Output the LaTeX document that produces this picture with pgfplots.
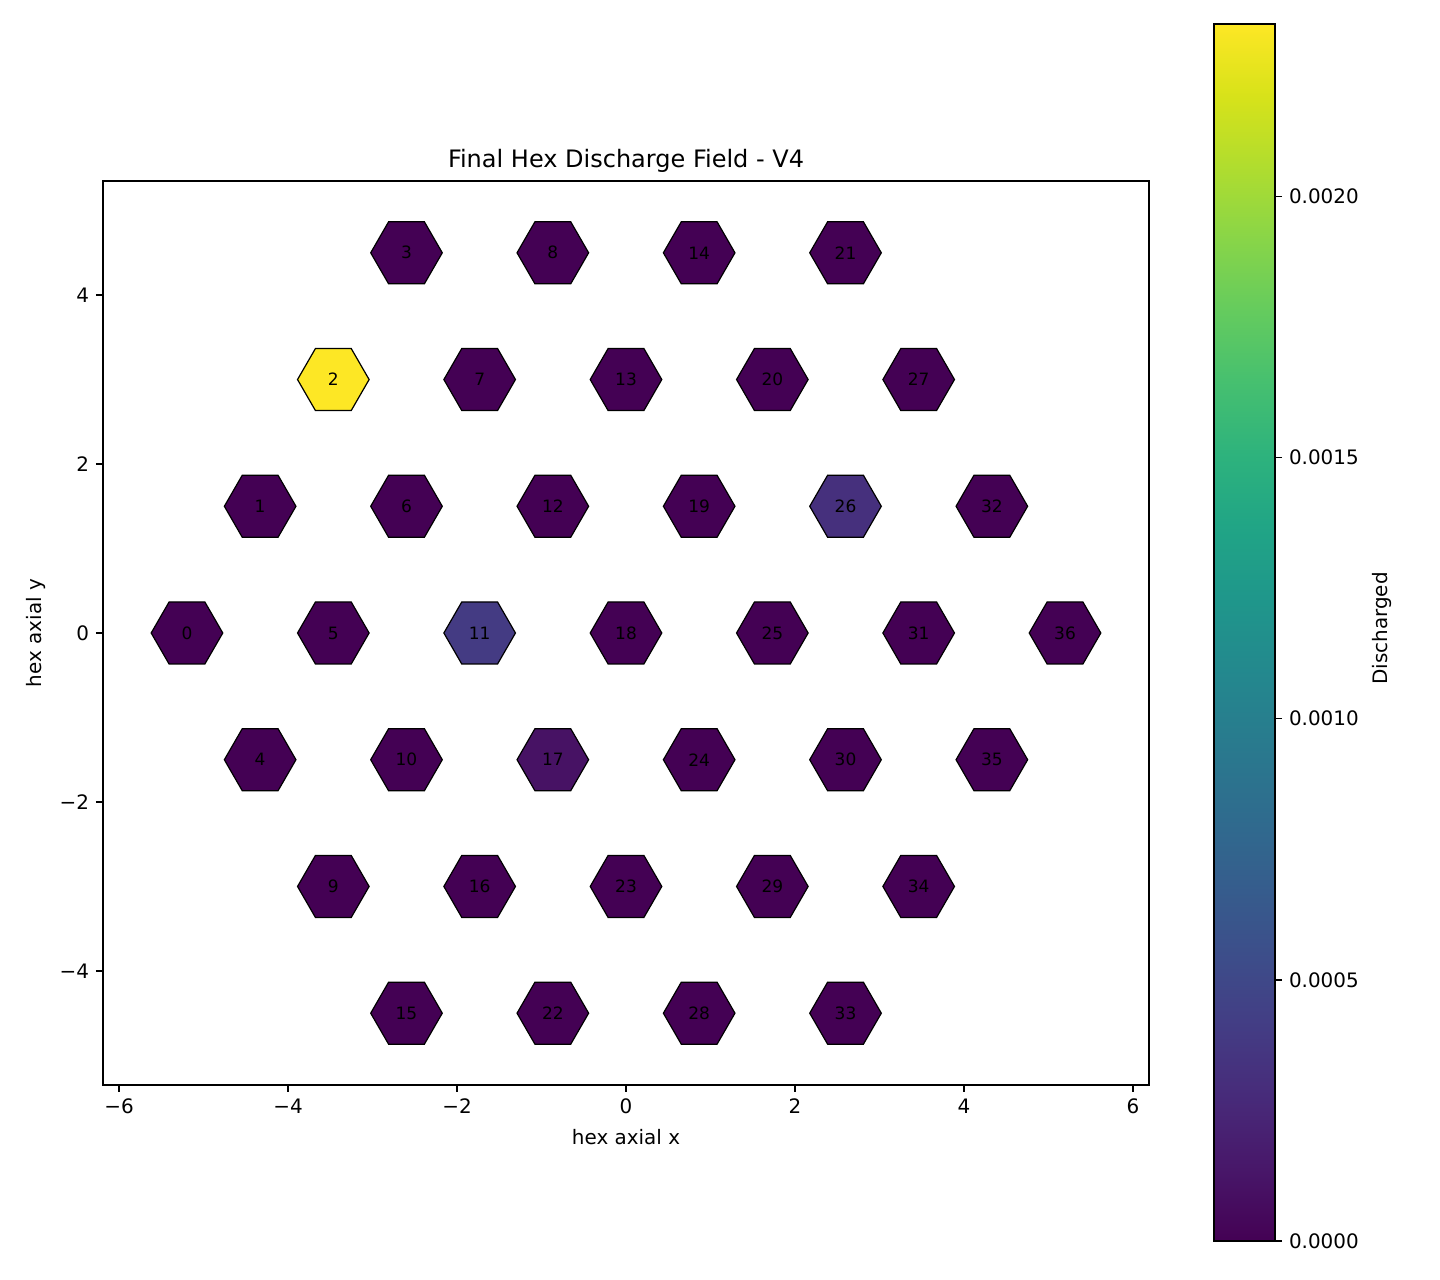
\documentclass[border=0pt]{standalone}
\usepackage{fontspec}
\setmainfont{DejaVu Sans}
\usepackage{pgfplots}
\usepackage{pgfplotstable}
\pgfplotsset{compat=1.18}
\pgfdeclareplotmark{hexflat}{%
  \pgfpathmoveto{\pgfpointpolar{0}{\pgfplotmarksize}}%
  \pgfpathlineto{\pgfpointpolar{60}{\pgfplotmarksize}}%
  \pgfpathlineto{\pgfpointpolar{120}{\pgfplotmarksize}}%
  \pgfpathlineto{\pgfpointpolar{180}{\pgfplotmarksize}}%
  \pgfpathlineto{\pgfpointpolar{240}{\pgfplotmarksize}}%
  \pgfpathlineto{\pgfpointpolar{300}{\pgfplotmarksize}}%
  \pgfpathclose
  \pgfusepathqfillstroke
}
\pgfplotstableread{
id x y v
0 -5.196 0 0
1 -4.330 1.5 0
2 -3.464 3 0.00233
3 -2.598 4.5 0
4 -4.330 -1.5 0
5 -3.464 0 0
6 -2.598 1.5 0
7 -1.732 3 0
8 -0.866 4.5 0
9 -3.464 -3 0
10 -2.598 -1.5 0
11 -1.732 0 0.00040
12 -0.866 1.5 0
13 0 3 0
14 0.866 4.5 0
15 -2.598 -4.5 0
16 -1.732 -3 0
17 -0.866 -1.5 0.000105
18 0 0 0
19 0.866 1.5 0
20 1.732 3 0
21 2.598 4.5 0
22 -0.866 -4.5 0
23 0 -3 0
24 0.866 -1.5 0
25 1.732 0 0
26 2.598 1.5 0.000315
27 3.464 3 0
28 0.866 -4.5 0
29 1.732 -3 0
30 2.598 -1.5 0
31 3.464 0 0
32 4.330 1.5 0
33 2.598 -4.5 0
34 3.464 -3 0
35 4.330 -1.5 0
36 5.196 0 0
}\hexdata
\begin{document}
\begin{tikzpicture}
\path[use as bounding box] (0,0) rectangle (720bp,640bp);
\begin{axis}[
  at={(51.5bp,97.5bp)}, anchor=south west,
  scale only axis, width=523bp, height=452bp,
  xmin=-6.19, xmax=6.19, ymin=-5.35, ymax=5.35,
  axis line style={line width=0.8bp},
  tick align=outside, xtick pos=bottom, ytick pos=left,
  major tick length=3.5bp,
  every tick/.style={black, line width=0.8bp},
  xtick={-6,-4,-2,0,2,4,6},
  xticklabels={−6,−4,−2,0,2,4,6},
  ytick={-4,-2,0,2,4},
  yticklabels={−4,−2,0,2,4},
  xlabel={hex axial x}, ylabel={hex axial y},
  xlabel style={yshift=-1bp},
  title={Final Hex Discharge Field - V4},
  title style={font=\fontsize{12bp}{14bp}\selectfont, yshift=-5bp},
  colormap/viridis,
  point meta min=0, point meta max=0.00233,
]
\addplot[scatter, only marks, mark=hexflat, mark size=17.9bp,
  line width=0.6bp,
  scatter/use mapped color={draw=black, fill=mapped color},
  point meta=explicit,
] table[x=x, y=y, meta=v] {\hexdata};
\addplot[only marks, mark=none, point meta=explicit symbolic,
  nodes near coords,
  every node near coord/.append style={anchor=center, text=black, inner sep=0pt,
    font=\fontsize{8.5bp}{10bp}\selectfont},
] table[x=x, y=y, meta=id] {\hexdata};
\end{axis}
\begin{axis}[
  at={(607bp,19.5bp)}, anchor=south west,
  scale only axis, width=30.5bp, height=608.5bp,
  xmin=0, xmax=1, ymin=0, ymax=0.00233,
  axis on top,
  axis line style={line width=0.8bp},
  xtick=\empty,
  tick align=outside, ytick pos=right, yticklabel pos=right,
  major tick length=3.5bp,
  every tick/.style={black, line width=0.8bp},
  ytick={0,0.0005,0.001,0.0015,0.002},
  yticklabels={0.0000,0.0005,0.0010,0.0015,0.0020},
  ylabel={Discharged},
  ylabel style={xshift=2bp},
  colormap/viridis,
  point meta min=0, point meta max=0.00233,
]
\addplot[surf, shader=interp, point meta=y, mesh/rows=2] coordinates {
(0,0) (1,0)

(0,0.00233) (1,0.00233)
};
\end{axis}
\end{tikzpicture}
\end{document}
